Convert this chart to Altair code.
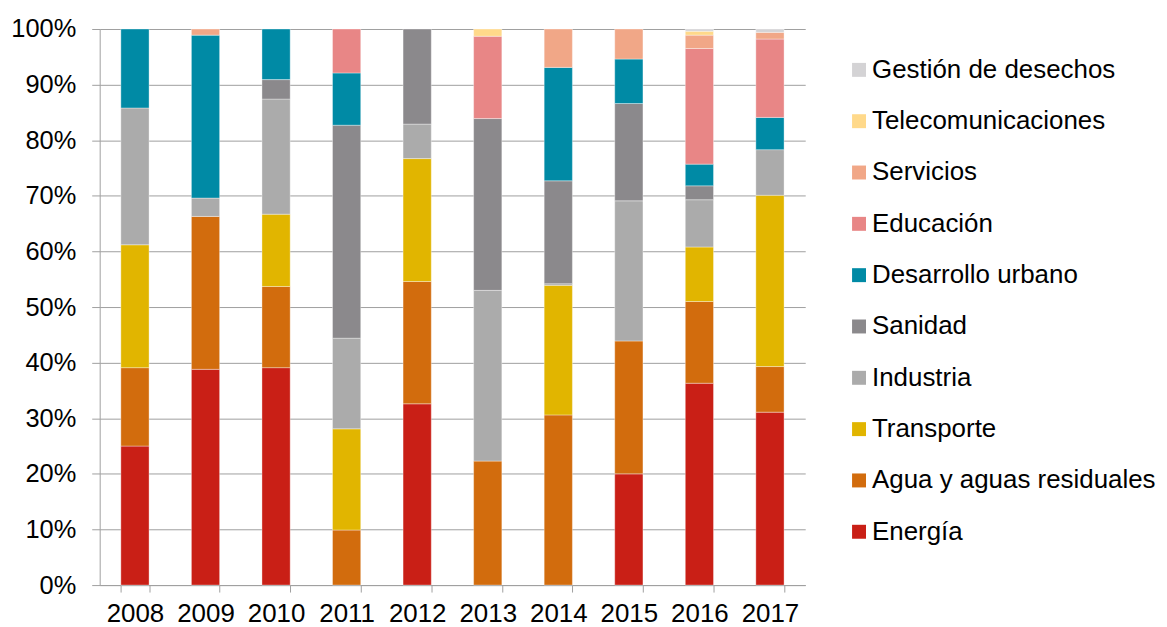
import altair as alt
import pandas as pd

years = ["2008", "2009", "2010", "2011", "2012", "2013", "2014", "2015", "2016", "2017"]

# Sector shares (%) per year, bottom to top of the stack
energia       = [25.0, 38.8, 39.1, 0.0, 32.6, 0.0, 0.0, 20.0, 36.3, 31.1]
agua          = [14.1, 27.5, 14.6, 9.9, 22.0, 22.3, 30.6, 23.9, 14.7, 8.2]
transporte    = [22.1, 0.0, 13.0, 18.2, 22.1, 0.0, 23.3, 0.0, 9.8, 30.8]
industria     = [24.6, 3.3, 20.7, 16.3, 6.2, 30.7, 0.3, 25.2, 8.5, 8.2]
sanidad       = [0.0, 0.0, 3.5, 38.3, 17.1, 30.9, 18.5, 17.5, 2.5, 0.0]
desarrollo    = [14.2, 29.3, 9.1, 9.4, 0.0, 0.0, 20.4, 8.0, 3.9, 5.8]
educacion     = [0.0, 0.0, 0.0, 7.9, 0.0, 14.8, 0.0, 0.0, 20.8, 14.1]
servicios     = [0.0, 1.1, 0.0, 0.0, 0.0, 0.0, 6.9, 5.4, 2.4, 1.2]
telecom       = [0.0, 0.0, 0.0, 0.0, 0.0, 1.3, 0.0, 0.0, 0.7, 0.0]
gestion       = [0.0, 0.0, 0.0, 0.0, 0.0, 0.0, 0.0, 0.0, 0.4, 0.6]

series_names = ["Energía", "Agua y aguas residuales", "Transporte", "Industria", "Sanidad",
                "Desarrollo urbano", "Educación", "Servicios", "Telecomunicaciones",
                "Gestión de desechos"]
series_values = [energia, agua, transporte, industria, sanidad,
                 desarrollo, educacion, servicios, telecom, gestion]
series_colors = ["#C91F16", "#D26C0D", "#E1B500", "#ABABAB", "#8B898C",
                 "#008AA5", "#E88686", "#F1A787", "#FFD98A", "#D4D3D5"]

rows = []
for idx, (name, vals) in enumerate(zip(series_names, series_values)):
    for y, v in zip(years, vals):
        if v > 0:
            rows.append({"Año": y, "Sector": name, "Valor": v, "orden": idx})
df = pd.DataFrame(rows)

legend_order = list(reversed(series_names))
legend_colors = list(reversed(series_colors))

FONT = "Liberation Sans"
GRID = "#A0A0A0"

chart = alt.Chart(df).mark_bar(stroke="white", strokeWidth=0.6, strokeOpacity=0.6).encode(
    x=alt.X("Año:N", sort=years, title=None,
            scale=alt.Scale(paddingInner=0.6, paddingOuter=0.3),
            axis=alt.Axis(labelAngle=0, tickBand="extent", grid=False,
                          tickSize=7, labelPadding=9, labelFontSize=26,
                          labelFont=FONT, labelColor="#000000",
                          domainColor=GRID, tickColor=GRID)),
    y=alt.Y("Valor:Q", stack="normalize", title=None,
            scale=alt.Scale(domain=[0, 1]),
            axis=alt.Axis(format=".0%", values=[i / 10 for i in range(11)],
                          tickSize=8, labelPadding=16, labelFontSize=25.5,
                          labelFont=FONT, labelColor="#000000",
                          gridColor=GRID, domainColor=GRID, tickColor=GRID)),
    color=alt.Color("Sector:N",
                    scale=alt.Scale(domain=legend_order, range=legend_colors),
                    legend=alt.Legend(title=None, orient="none", legendX=749, legendY=28,
                                      symbolType="square", symbolSize=196,
                                      symbolStrokeWidth=0, labelFontSize=26,
                                      labelFont=FONT, labelColor="#000000",
                                      labelOffset=0, rowPadding=25.5, padding=0,
                                      labelLimit=400)),
    order=alt.Order("orden:Q", sort="ascending"),
).properties(
    width=708,
    height=558,
    autosize=alt.AutoSizeParams(type="none"),
    padding={"left": 92, "top": 20, "right": 355, "bottom": 48},
).configure_view(stroke=None)

chart.save("out.html", embed_options={"renderer": "svg", "actions": False})
